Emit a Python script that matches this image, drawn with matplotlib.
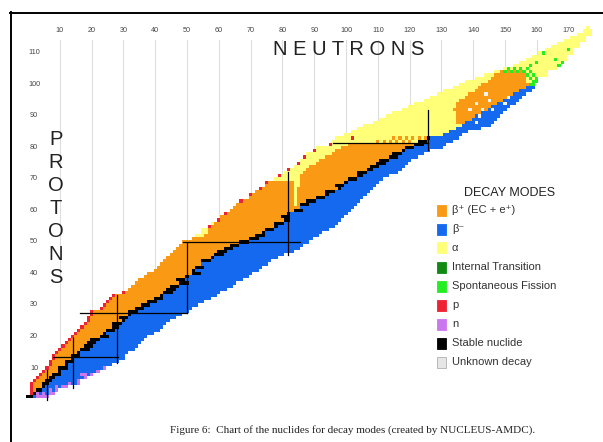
import numpy as np
import matplotlib
matplotlib.use("Agg")
import matplotlib.pyplot as plt
from matplotlib.colors import ListedColormap
from matplotlib.patches import Rectangle
from matplotlib.lines import Line2D

W, H = 603, 442

# ---- values (Z = 1..118) ----
z_values = list(range(1, 119))
n_min = [0, 1, 1, 1, 1, 2, 3, 4, 5, 6,
         7, 7, 8, 8, 9, 10, 11, 12, 13, 14,
         15, 16, 17, 18, 19, 19, 20, 20, 23, 24,
         25, 26, 27, 30, 32, 33, 34, 35, 37, 38,
         40, 41, 42, 43, 44, 45, 46, 47, 48, 49,
         52, 53, 55, 55, 57, 58, 60, 61, 62, 64,
         65, 66, 67, 70, 70, 72, 73, 75, 75, 78,
         79, 81, 82, 84, 85, 86, 87, 88, 90, 91,
         95, 96, 97, 100, 102, 104, 106, 109, 111, 113,
         115, 118, 120, 122, 125, 127, 129, 131, 134, 136,
         138, 141, 144, 147, 150, 153, 155, 157, 159, 161,
         163, 165, 167, 169, 171, 173, 175, 176]
n_max = [6, 8, 9, 12, 16, 16, 18, 20, 22, 24,
         26, 28, 30, 30, 31, 33, 34, 35, 36, 37,
         39, 41, 42, 43, 44, 46, 48, 50, 51, 53,
         55, 57, 59, 60, 62, 64, 65, 67, 69, 70,
         72, 73, 75, 76, 78, 80, 83, 85, 86, 88,
         89, 91, 92, 94, 96, 97, 98, 99, 100, 101,
         102, 103, 104, 105, 106, 107, 108, 109, 110, 111,
         113, 116, 117, 118, 119, 120, 122, 124, 126, 130,
         131, 133, 135, 136, 138, 142, 145, 146, 147, 148,
         149, 150, 151, 153, 154, 155, 156, 158, 159, 159,
         159, 160, 163, 163, 166, 167, 167, 169, 169, 171,
         171, 173, 173, 175, 175, 177, 177, 176]

stable = {
    1: [0, 1], 2: [1, 2], 3: [3, 4], 4: [5], 5: [5, 6], 6: [6, 7], 7: [7, 8],
    8: [8, 9, 10], 9: [10], 10: [10, 11, 12], 11: [12], 12: [12, 13, 14],
    13: [14], 14: [14, 15, 16], 15: [16], 16: [16, 17, 18, 20], 17: [18, 20],
    18: [18, 20, 22], 19: [20, 21, 22], 20: [20, 22, 23, 24, 26, 28], 21: [24],
    22: [24, 25, 26, 27, 28], 23: [27, 28], 24: [26, 28, 29, 30], 25: [30],
    26: [28, 30, 31, 32], 27: [32], 28: [30, 32, 33, 34, 36], 29: [34, 36],
    30: [34, 36, 37, 38, 40], 31: [38, 40], 32: [38, 40, 41, 42, 44], 33: [42],
    34: [40, 42, 43, 44, 46, 48], 35: [44, 46], 36: [42, 44, 46, 47, 48, 50],
    37: [48, 50], 38: [46, 48, 49, 50], 39: [50], 40: [50, 51, 52, 54, 56],
    41: [52], 42: [50, 52, 53, 54, 55, 56, 58], 44: [52, 54, 55, 56, 57, 58, 60],
    45: [58], 46: [56, 58, 59, 60, 62, 64], 47: [60, 62],
    48: [58, 60, 62, 63, 64, 65, 66, 68], 49: [64, 66],
    50: [62, 64, 65, 66, 67, 68, 69, 70, 72, 74], 51: [70, 72],
    52: [68, 70, 71, 72, 73, 74, 76, 78], 53: [74],
    54: [70, 72, 74, 75, 76, 77, 78, 80, 82], 55: [78],
    56: [74, 76, 78, 79, 80, 81, 82], 57: [81, 82], 58: [78, 80, 82, 84],
    59: [82], 60: [82, 83, 84, 85, 86, 88, 90], 62: [82, 85, 86, 87, 88, 90, 92],
    63: [88, 90], 64: [88, 90, 91, 92, 93, 94, 96], 65: [94],
    66: [90, 92, 94, 95, 96, 97, 98], 67: [98], 68: [94, 96, 98, 99, 100, 102],
    69: [100], 70: [98, 100, 101, 102, 103, 104, 106], 71: [104, 105],
    72: [102, 104, 105, 106, 107, 108], 73: [107, 108],
    74: [106, 108, 109, 110, 112], 75: [110, 112],
    76: [108, 110, 111, 112, 113, 114, 116], 77: [114, 116],
    78: [112, 114, 116, 117, 118, 120], 79: [118],
    80: [116, 118, 119, 120, 121, 122, 124], 81: [122, 124],
    82: [122, 124, 125, 126], 83: [126],
}
stable_halfwidth = 1  # cells either side of the row centre drawn black
# first beta-minus N for rows without stable nuclides
beta_split = {43: 55, 61: 86, 84: 131, 85: 133, 86: 135, 87: 137, 88: 138,
              89: 140, 90: 141, 91: 143, 92: 145, 93: 146, 94: 148, 95: 150,
              96: 152, 97: 153, 98: 155, 99: 157, 100: 158}
# alpha (yellow) cells along the proton-rich edge: last yellow N per row
alpha_edge = {52: 55, 53: 56, 54: 56, 55: 57, 56: 58, 70: 83, 71: 85, 72: 86,
              73: 87, 74: 88, 75: 90, 76: 91, 77: 93, 78: 95, 79: 96, 80: 98,
              81: 100}
alpha_column = {84: (62, 76), 85: (68, 76)}
# beta-plus band inside the heavy alpha region
heavy_orange_lo = {88: 135, 89: 135, 90: 135, 91: 135, 92: 134, 93: 135,
                   94: 135, 95: 136, 96: 138, 97: 139, 98: 141, 99: 142,
                   100: 143, 101: 145, 102: 146, 103: 147, 104: 149}
heavy_orange_hi = {101: 156, 102: 156, 103: 156, 104: 156}
spike_orange = {82: [110, 112, 114, 116, 118, 120],
                83: [115, 117, 119, 121, 123, 125]}
p_low_z = list(range(2, 35))
p_cells = [(55, 57), (57, 60), (59, 62), (63, 67), (65, 70), (67, 73), (69, 75),
           (71, 79), (73, 82), (75, 85), (77, 87), (79, 90), (81, 95), (83, 102)]
n_cells = [(1, 3), (1, 4), (1, 5), (1, 6), (2, 3), (2, 5), (2, 7), (2, 8),
           (3, 7), (3, 9), (4, 9), (4, 11), (4, 12), (5, 13), (5, 16), (6, 16),
           (7, 18), (8, 17), (8, 18), (8, 20), (9, 22), (10, 24)]
sf_cells = [(100, 158), (100, 159), (101, 159), (101, 160), (102, 158),
            (102, 160), (103, 157), (103, 159), (104, 150), (104, 152),
            (104, 154), (104, 156), (104, 158), (105, 151), (105, 153),
            (105, 155), (105, 157), (106, 158), (107, 160), (106, 167),
            (107, 168), (108, 166), (110, 162), (111, 170)]
light_cells = [(88, 141), (90, 142), (92, 139), (92, 143), (92, 146),
               (94, 141), (94, 150), (95, 145), (97, 144), (96, 151)]

neutron_ticks = [10, 20, 30, 40, 50, 60, 70, 80, 90, 100, 110, 120, 130,
                 140, 150, 160, 170]
proton_ticks = [10, 20, 30, 40, 50, 60, 70, 80, 90, 100, 110]
# magic-number lines as drawn: (position, start, end)
magic_v = [(6.0, -0.2, 9.4), (14.2, 3.7, 19.5), (28.0, 11.6, 33.2),
           (50.0, 27.5, 49.7), (81.8, 45.9, 72.2), (125.8, 79.2, 91.9)]
magic_h = [(13.5, 7.9, 28.3), (27.5, 16.4, 50.0), (50.0, 48.7, 85.5),
           (81.4, 95.9, 125.8)]

legend_labels = ['β⁺ (EC + e⁺)', 'β⁻', 'α', 'Internal Transition',
                 'Spontaneous Fission', 'p', 'n', 'Stable nuclide',
                 'Unknown decay']
colors = ['#fa9a14', '#1569ee', '#ffff78', '#108a10', '#22ee22', '#ee2233',
          '#cc77ee', '#000000', '#e6e6e6']
light_color = '#f4f4ea'

# ---- build the cell grid ----
grid = np.zeros((119, 181), dtype=float)
for i, z in enumerate(z_values):
    st = stable.get(z, [])
    if st:
        m = int(round(np.mean(st)))
        b_lo = max(min(st), m - stable_halfwidth)
        b_hi = min(max(st), m + stable_halfwidth)
        split = b_hi + 1
    else:
        b_lo, b_hi = 999, -1
        split = beta_split.get(z, 999)
    for n in range(n_min[i], n_max[i] + 1):
        if b_lo <= n <= b_hi:
            c = 8
        elif n >= split:
            c = 2
        else:
            c = 1
        if c == 1:
            if z >= 82:
                c = 3
                if z in heavy_orange_lo and heavy_orange_lo[z] <= n <= heavy_orange_hi.get(z, split - 1):
                    c = 1
                if n in spike_orange.get(z, []):
                    c = 1
            elif n <= alpha_edge.get(z, -1):
                c = 3
            elif n in alpha_column and alpha_column[n][0] <= z <= alpha_column[n][1]:
                c = 3
        grid[z, n] = c

for i, z in enumerate(z_values):
    if z in p_low_z:
        grid[z, n_min[i]] = 6
for z, n in p_cells:
    grid[z, n] = 6
for z, n in n_cells:
    grid[z, n] = 7
for z, n in sf_cells:
    grid[z, n] = 5
for z, n in light_cells:
    grid[z, n] = 10

masked = np.ma.masked_equal(grid, 0)
cmap = ListedColormap(colors + [light_color])

# ---- figure: axes fill the page, data limits set from pixel layout ----
fig = plt.figure(figsize=(W / 100, H / 100), dpi=100)
ax = fig.add_axes([0, 0, 1, 1])
px_n = lambda x: (x - 28) / 3.18
px_z = lambda y: (399.5 - y) / 3.15
ax.set_xlim(px_n(0), px_n(W))
ax.set_ylim(px_z(H), px_z(0))
ax.axis('off')

# faint column lines above the band
for n in neutron_ticks:
    zs = [z for i, z in enumerate(z_values) if n_min[i] <= n <= n_max[i]]
    ax.plot([n, n], [max(zs) + 0.5, px_z(40)], color='#dedede', lw=0.8, zorder=0)

ax.pcolormesh(np.arange(-0.5, 181), np.arange(-0.5, 119), masked, cmap=cmap,
              vmin=0.5, vmax=10.5, shading='flat', antialiased=False, zorder=1)

for n, z0, z1 in magic_v:
    ax.plot([n, n], [z0, z1], color='black', lw=0.9, zorder=3)
for z, n0, n1 in magic_h:
    ax.plot([n0, n1], [z, z], color='black', lw=0.9, zorder=3)

sans = ['Liberation Sans', 'DejaVu Sans']
for n in neutron_ticks:
    ax.text(n, px_z(31), str(n), fontsize=5.2, ha='center', va='center',
            color='#444444', family=sans)
for z in proton_ticks:
    ax.text(px_n(34), z, str(z), fontsize=5.2, ha='center', va='center',
            color='#444444', family=sans)

ax.text(px_n(349), px_z(49.5), 'N E U T R O N S', fontsize=14.5, ha='center',
        va='center', family=sans, color='#222222')
for k, ch in enumerate('PROTONS'):
    ax.text(px_n(56), px_z(139.5 + 23 * k), ch, fontsize=14.5, ha='center',
            va='center', family=sans, color='#222222')

# ---- legend ----
ax.text(px_n(510), px_z(193.5), 'DECAY MODES', fontsize=9, ha='center',
        va='center', family=sans, color='#222222')
for k, (lab, col) in enumerate(zip(legend_labels, colors)):
    yc = 210 + 19 * k
    ec = '#b0b0b0' if k == len(colors) - 1 else col
    fig.add_artist(Rectangle((437 / W, 1 - (yc + 5.5) / H), 9 / W, 11 / H,
                             facecolor=col, edgecolor=ec, lw=0.6,
                             transform=fig.transFigure))
    fig.text(452 / W, 1 - yc / H, lab, fontsize=8, ha='left', va='center',
             family=sans, color='#333333')

# ---- page frame and caption ----
fig.add_artist(Line2D([10 / W, 1], [1 - 12.5 / H, 1 - 12.5 / H], color='black',
                      lw=1.4, transform=fig.transFigure))
fig.add_artist(Line2D([10.5 / W, 10.5 / W], [0, 1 - 12 / H], color='black',
                      lw=1.4, transform=fig.transFigure))
fig.text(353 / W, 1 - 430 / H,
         'Figure 6:  Chart of the nuclides for decay modes (created by NUCLEUS-AMDC).',
         fontsize=8.0, ha='center', va='center', family='Liberation Serif',
         color='#222222')

fig.savefig('out.png', dpi=100)
